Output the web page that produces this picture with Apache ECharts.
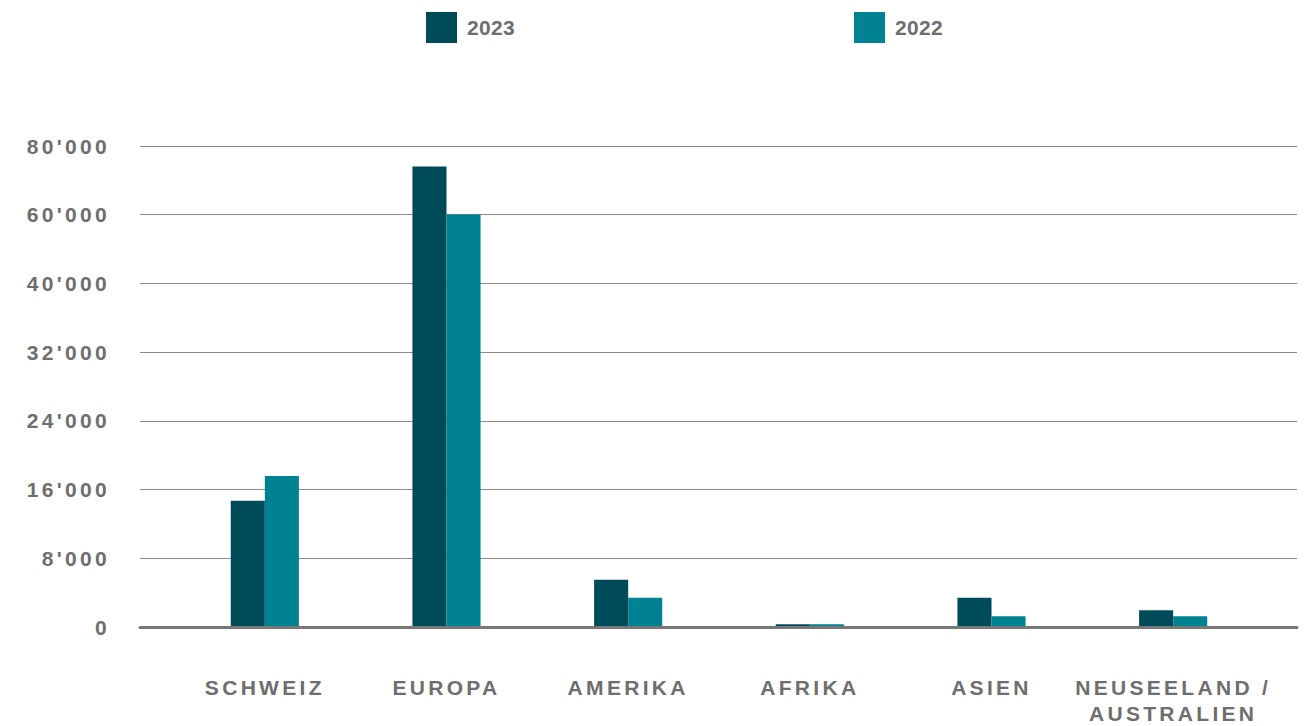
<!DOCTYPE html>
<html>
<head>
<meta charset="utf-8">
<script src="https://cdn.jsdelivr.net/npm/echarts@6/dist/echarts.min.js"></script>
<style>
	html, body { margin: 0; padding: 0; background: #fff; }
	#chart { width: 1313px; height: 726px; }
	#chart text { letter-spacing: 3.3px; }
	#chart text[text-anchor="start"] { letter-spacing: 0.3px; }
</style>
</head>
<body>
<div id="chart"></div>
<script>
// Regionen (Kategorien)
var regions = ['SCHWEIZ', 'EUROPA', 'AMERIKA', 'AFRIKA', 'ASIEN', 'NEUSEELAND /\nAUSTRALIEN'];
// Werte pro Jahr
var values2023 = [14600, 74000, 5400, 200, 3300, 1850];
var values2022 = [17500, 60000, 3300, 200, 1150, 1150];
// Achsenbeschriftung (ungleiche Abstaende)
var tickValues = [0, 8000, 16000, 24000, 32000, 40000, 60000, 80000];
var tickLabels = ["0", "8'000", "16'000", "24'000", "32'000", "40'000", "60'000", "80'000"];

var dark = '#004b5a';
var light = '#008293';
var textColor = '#6e6e6e';

// wert -> position auf der stueckweisen achse
function toScale(v) {
	for (var i = 1; i < tickValues.length; i++) {
		if (v <= tickValues[i]) {
			return (i - 1) + (v - tickValues[i - 1]) / (tickValues[i] - tickValues[i - 1]);
		}
	}
	return tickValues.length - 1;
}

var myChart = echarts.init(document.getElementById('chart'), null, {renderer: 'svg'});

var option = {
	animation: false,
	textStyle: {
		fontFamily: 'Liberation Sans, Arial, sans-serif'
	},
	legend: [{
		left: 426,
		top: 12,
		padding: 0,
		itemWidth: 31,
		itemHeight: 31,
		itemGap: 10,
		icon: 'rect',
		data: ['2023'],
		textStyle: {color: textColor, fontSize: 21, fontWeight: 'bold', padding: [0, 0, 0, 5]}
	}, {
		left: 854,
		top: 12,
		padding: 0,
		itemWidth: 31,
		itemHeight: 31,
		icon: 'rect',
		data: ['2022'],
		textStyle: {color: textColor, fontSize: 21, fontWeight: 'bold', padding: [0, 0, 0, 5]}
	}],
	grid: [{
		left: 140,
		right: 16,
		top: 146,
		bottom: 99
	}, {
		left: 174,
		right: 49,
		top: 146,
		bottom: 99
	}],
	xAxis: [{
		gridIndex: 0,
		type: 'value',
		min: 0,
		max: 1,
		axisLine: {show: true, onZero: false, lineStyle: {color: '#777', width: 3}},
		axisTick: {show: false},
		axisLabel: {show: false},
		splitLine: {show: false}
	}, {
		gridIndex: 1,
		type: 'category',
		data: regions,
		axisLine: {show: false},
		axisTick: {show: false},
		axisLabel: {
			margin: 48,
			color: textColor,
			fontSize: 21,
			fontWeight: 'bold',
			lineHeight: 26,
			interval: 0
		}
	}],
	yAxis: [{
		gridIndex: 0,
		type: 'value',
		min: 0,
		max: tickValues.length - 1,
		interval: 1,
		axisLine: {show: false},
		axisTick: {show: false},
		axisLabel: {
			margin: 30,
			color: textColor,
			fontSize: 21,
			fontWeight: 'bold',
			formatter: function (v) {
				return tickLabels[Math.round(v)];
			}
		},
		splitLine: {lineStyle: {color: '#8c8c8c', width: 1}}
	}, {
		gridIndex: 1,
		type: 'value',
		min: 0,
		max: tickValues.length - 1,
		interval: 1,
		show: false,
		splitLine: {show: false}
	}],
	series: [{
		name: '2023',
		type: 'bar',
		xAxisIndex: 1,
		yAxisIndex: 1,
		barGap: 0,
		barCategoryGap: '62.5%',
		itemStyle: {color: dark},
		data: values2023.map(toScale)
	}, {
		name: '2022',
		type: 'bar',
		xAxisIndex: 1,
		yAxisIndex: 1,
		barGap: 0,
		barCategoryGap: '62.5%',
		itemStyle: {color: light},
		data: values2022.map(toScale)
	}]
};
myChart.setOption(option);
</script>
</body>
</html>
